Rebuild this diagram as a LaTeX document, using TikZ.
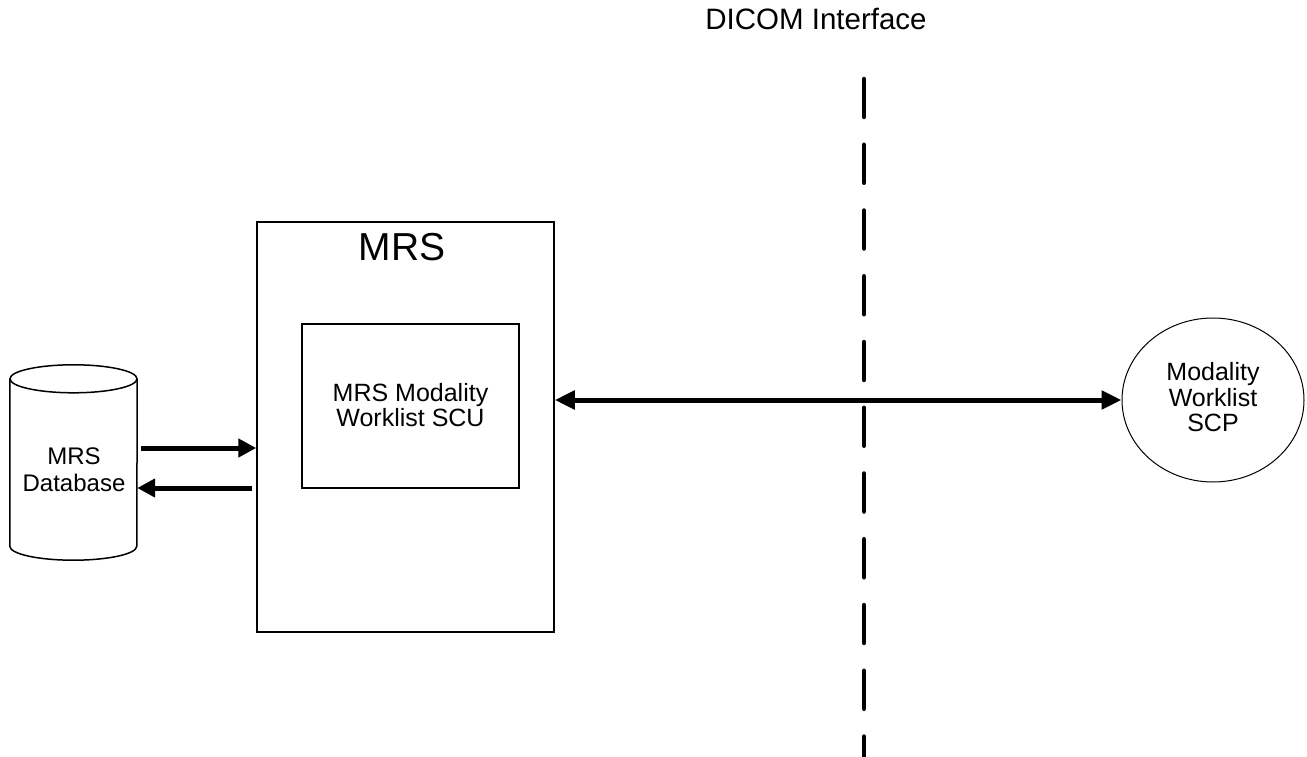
\documentclass[tikz,border=0pt]{standalone}
\usepackage{fontspec}
\setmainfont{Liberation Sans}
\usetikzlibrary{arrows.meta,calc,shapes.geometric}
\begin{document}
\begin{tikzpicture}[x=1pt,y=1pt,
  box/.style={draw,line width=1.5pt,inner sep=0pt},
  flow/.style={line width=5pt,-{Triangle[length=18pt,width=18pt]}},
  biflow/.style={line width=5pt,{Triangle[length=20pt,width=18pt]}-{Triangle[length=20pt,width=18pt]}},
  iface/.style={line width=4.5pt,line cap=round,dash pattern=on 38pt off 27.75pt},
  lbl/.style={inner sep=0pt,align=center}]
\useasboundingbox (0,0) rectangle (1307,-757);
% title
\node[lbl,font=\fontsize{29.5}{30}\selectfont] (dicom) at (816,-19) {DICOM Interface};
% interface line
\coordinate (ifTop) at (864,-79);
\coordinate (ifBot) at (864,-757);
\draw[iface] (ifTop) -- (ifBot);
% MRS box
\node[box,minimum width=297pt,minimum height=410pt] (mrs) at (405.5,-427) {};
\node[lbl,font=\fontsize{39}{39}\selectfont] (mrstitle) at (402,-247.5) {MRS};
\node[box,line width=1.2pt,minimum width=217pt,minimum height=164pt] (scu) at (410.5,-406) {};
\node[lbl,font=\fontsize{25}{22}\selectfont] (scutext) at (410.5,-405) {MRS Modality\\Worklist SCU};
% database cylinder
\node[inner sep=0pt,minimum width=127pt,minimum height=195pt] (db) at (73.5,-462.5) {};
\draw[line width=1.5pt] ($(db.north west)+(0,-14)$) -- ($(db.south west)+(0,14)$)
  arc[start angle=180,end angle=360,x radius=63.5pt,y radius=14pt]
  -- ($(db.north east)+(0,-14)$);
\draw[line width=1.5pt] ($(db.north)+(0,-14)$) ellipse [x radius=63.5pt,y radius=14pt];
\node[lbl,font=\fontsize{24}{27}\selectfont] (dbtext) at (74,-470) {MRS\\Database};
% SCP ellipse
\node[draw,ellipse,line width=1pt,inner sep=0pt,minimum width=182pt,minimum height=164pt] (scp) at (1213,-400) {};
\node[lbl,font=\fontsize{25}{25.5}\selectfont] (scptext) at (1213,-397.5) {Modality\\Worklist\\SCP};
% connectors
\draw[flow] ($(db.east)+(4,14.5)$) -- ($(mrs.west)+(0,-21)$);
\draw[flow] ($(mrs.west)+(-4,-61)$) -- ($(db.east)+(0,-25.5)$);
\draw[biflow] ($(mrs.east)+(0,27)$) -- (scp.west);
\end{tikzpicture}
\end{document}
